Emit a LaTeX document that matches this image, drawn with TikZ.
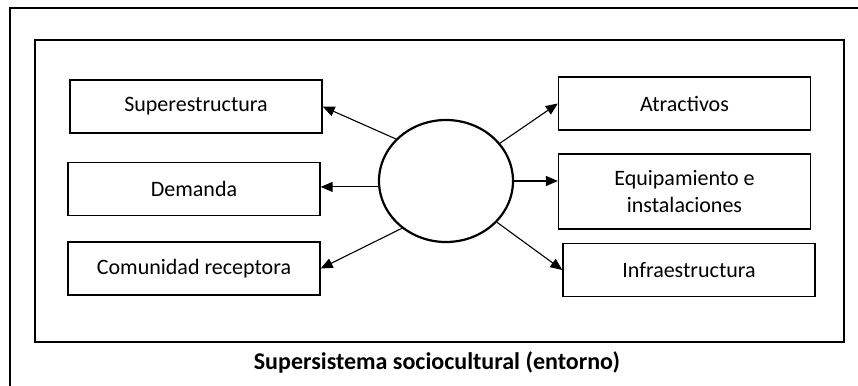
\documentclass[tikz,border=0pt]{standalone}
\usepackage{fontspec}
\setmainfont{Carlito}
\usetikzlibrary{shapes.geometric,arrows.meta}

\tikzset{
  marco/.style={draw, line width=1.3pt},
  caja/.style={draw, line width=1.3pt, minimum width=252pt, minimum height=53pt,
    inner sep=0pt, align=center, font=\fontsize{22}{27}\selectfont},
  flecha/.style={-{Triangle[length=12pt,width=10pt]}, line width=1.1pt},
}

\begin{document}
\begin{tikzpicture}[x=1pt,y=-1pt]
    \useasboundingbox (0,0) rectangle (858,385);
    \clip (0,0) rectangle (858,385);
    % Draw frames
    \draw[marco] (10,8) rectangle (880,400);
    \draw[marco] (35,40) rectangle (844,342);
    % Draw left boxes
    \node[caja] (super) at (196,106.5) {Superestructura};
    \node[caja] (dem)   at (194,189)   {Demanda};
    \node[caja] (com)   at (194,268.5) {Comunidad receptora};
    % Draw right boxes
    \node[caja] (atr)   at (684.5,103.5) {Atractivos};
    \node[caja, minimum height=75pt] (equip) at (684.5,191.5) {Equipamiento e\\instalaciones};
    \node[caja] (infra) at (689,270) {Infraestructura};
    % Draw centre
    \node[draw, ellipse, line width=2.2pt, minimum width=134pt, minimum height=122pt] (centro) at (446,181) {};
    % Draw arrows
    \draw[flecha] (centro.140) -- (super.east);
    \draw[flecha] (centro.185) -- (centro.185 -| dem.east);
    \draw[flecha] (centro.227) -- (com.east);
    \draw[flecha] (centro.35)  -- (atr.west);
    \draw[flecha] (centro.east) -- (centro.east -| equip.west);
    \draw[flecha] (centro.321) -- (infra.west);
    % Caption
    \node[font=\bfseries\fontsize{24}{28}\selectfont] (entorno) at (437,362) {Supersistema sociocultural (entorno)};
\end{tikzpicture}
\end{document}
